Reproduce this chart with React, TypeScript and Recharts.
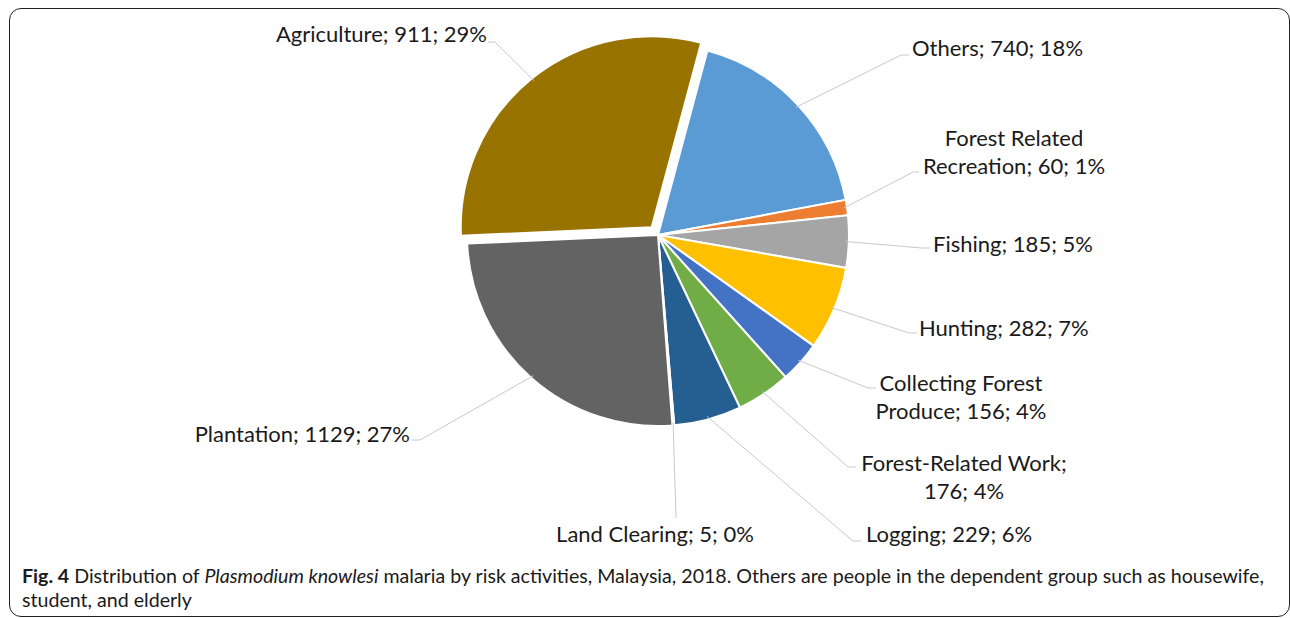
import { PieChart, Pie, Cell } from 'recharts'

// Fig. 4 – P. knowlesi malaria by risk activity, Malaysia 2018
const categories = [
  'Others',
  'Forest Related Recreation',
  'Fishing',
  'Hunting',
  'Collecting Forest Produce',
  'Forest-Related Work',
  'Logging',
  'Land Clearing',
  'Plantation',
  'Agriculture',
]
const cases = [740, 60, 185, 282, 156, 176, 229, 5, 1129, 911]
const percentLabels = [18, 1, 5, 7, 4, 4, 6, 0, 27, 29]
// slice sizes as drawn in the figure (percent of the circle)
const sliceShares = [17.9, 1.3, 4.4, 7.1, 3.5, 4.6, 5.7, 0.15, 25.5, 29.9]

const COLORS = [
  '#5B9BD5',
  '#ED7D31',
  '#A5A5A5',
  '#FFC000',
  '#4472C4',
  '#70AD47',
  '#255E91',
  '#9E480E',
  '#636363',
  '#997300',
]

const EXPLODED = 9 // Agriculture
const EXPLODE_PX = 10
const FIRST_SLICE_ANGLE = 15 // degrees clockwise from 12 o'clock
const CX = 658
const CY = 235
const R = 191
const RAD = Math.PI / 180
const FONT = 'Lato, "Open Sans", sans-serif'

// where each label sits: text position, line attach point and horizontal stub
const labelLayout = [
  { x: 912, y: 56, anchor: 'start', split: 0, attach: [909, 55], stub: -8 },
  { x: 1014, y: 146, anchor: 'middle', split: 2, attach: [919, 172], stub: -6 },
  { x: 933, y: 252, anchor: 'start', split: 0, attach: [930, 248], stub: -8 },
  { x: 919, y: 336, anchor: 'start', split: 0, attach: [917, 333], stub: -8 },
  { x: 961, y: 391, anchor: 'middle', split: 2, attach: [876, 388], stub: -8 },
  { x: 964, y: 471, anchor: 'middle', split: 2, attach: [856, 467], stub: -8 },
  { x: 866, y: 542, anchor: 'start', split: 0, attach: [861, 541], stub: -8 },
  { x: 655, y: 542, anchor: 'middle', split: 0, attach: [676, 518], stub: 0 },
  { x: 410, y: 442, anchor: 'end', split: 0, attach: [412, 440], stub: 8 },
  { x: 487, y: 42, anchor: 'end', split: 0, attach: [488, 42], stub: 7 },
]

const data = categories.map((name, i) => ({
  name,
  cases: cases[i],
  pct: percentLabels[i],
  share: sliceShares[i],
}))

function explodeOffset() {
  const total = sliceShares.reduce((a, b) => a + b, 0)
  const before = sliceShares.slice(0, EXPLODED).reduce((a, b) => a + b, 0)
  const clock = FIRST_SLICE_ANGLE + ((before + sliceShares[EXPLODED] / 2) / total) * 360
  const mid = (90 - clock) * RAD
  return { dx: EXPLODE_PX * Math.cos(mid), dy: -EXPLODE_PX * Math.sin(mid) }
}

function labelLines(i: number): string[] {
  const text = `${categories[i]}; ${cases[i]}; ${percentLabels[i]}%`
  const split = labelLayout[i].split
  if (!split) return [text]
  const words = text.split(' ')
  return [words.slice(0, split).join(' '), words.slice(split).join(' ')]
}

function makeLabel(showExploded: boolean) {
  return (props: any) => {
    const { cx, cy, midAngle, outerRadius, index } = props
    if ((index === EXPLODED) !== showExploded) return <g key={`l-${index}`} />
    const layout = labelLayout[index]
    const ax = cx + (outerRadius - 3) * Math.cos(-midAngle * RAD)
    const ay = cy + (outerRadius - 3) * Math.sin(-midAngle * RAD)
    const [px, py] = layout.attach
    const points = `${px},${py} ${px + layout.stub},${py} ${ax},${ay}`
    return (
      <g key={`l-${index}`}>
        <polyline points={points} fill="none" stroke="#c9c9c9" strokeWidth={1} />
        <text
          x={layout.x}
          y={layout.y}
          textAnchor={layout.anchor}
          fontFamily={FONT}
          fontSize={22}
          fill="#1a1a1a"
        >
          {labelLines(index).map((line, k) => (
            <tspan key={k} x={layout.x} dy={k === 0 ? 0 : 28}>
              {line}
            </tspan>
          ))}
        </text>
      </g>
    )
  }
}

export default function App() {
  const { dx, dy } = explodeOffset()
  const start = 90 - FIRST_SLICE_ANGLE
  return (
    <div
      style={{
        position: 'fixed',
        left: 0,
        top: 0,
        width: 1290,
        height: 618,
        overflow: 'hidden',
        background: '#fff',
      }}
    >
      <div
        style={{
          position: 'absolute',
          left: 9,
          top: 8,
          width: 1281,
          height: 609,
          border: '1.5px solid #222',
          borderRadius: 12,
          boxSizing: 'border-box',
        }}
      />
      <div style={{ position: 'absolute', left: 0, top: 0 }}>
        <PieChart width={1290} height={560} margin={{ top: 0, right: 0, bottom: 0, left: 0 }}>
          <Pie
            data={data}
            dataKey="share"
            nameKey="name"
            cx={CX}
            cy={CY}
            outerRadius={R}
            startAngle={start}
            endAngle={start - 360}
            stroke="#fff"
            strokeWidth={2}
            labelLine={false}
            label={makeLabel(false)}
            isAnimationActive={false}
          >
            {data.map((d, i) => (
              <Cell
                key={d.name}
                fill={i === EXPLODED ? 'transparent' : COLORS[i]}
                stroke={i === EXPLODED ? 'none' : '#fff'}
              />
            ))}
          </Pie>
          <Pie
            data={data}
            dataKey="share"
            nameKey="name"
            cx={CX + dx}
            cy={CY + dy}
            outerRadius={R}
            startAngle={start}
            endAngle={start - 360}
            labelLine={false}
            label={makeLabel(true)}
            isAnimationActive={false}
          >
            {data.map((d, i) => (
              <Cell
                key={d.name}
                fill={i === EXPLODED ? COLORS[i] : 'transparent'}
                stroke={i === EXPLODED ? '#fff' : 'none'}
                strokeWidth={2}
              />
            ))}
          </Pie>
        </PieChart>
      </div>
      <div
        style={{
          position: 'absolute',
          left: 22,
          top: 564,
          fontFamily: FONT,
          fontSize: 19.6,
          lineHeight: '24px',
          color: '#1a1a1a',
          whiteSpace: 'nowrap',
        }}
      >
        <b>Fig. 4</b> Distribution of <i>Plasmodium knowlesi</i> malaria by risk activities,
        Malaysia, 2018. Others are people in the dependent group such as housewife,
        <br />
        student, and elderly
      </div>
    </div>
  )
}
